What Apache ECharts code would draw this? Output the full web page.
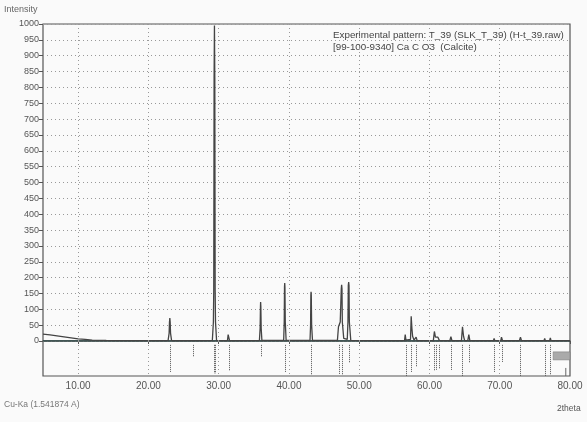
<!DOCTYPE html>
<html><head><meta charset="utf-8">
<script src="https://cdn.jsdelivr.net/npm/echarts@6/dist/echarts.min.js"></script>
<style>html,body{margin:0;padding:0;background:#fafafa}#c{width:587px;height:422px}</style>
</head><body><div id="c"></div>
<script>
// Measured pattern (2theta, intensity counts)
const twoTheta = [5,6,7,8,9,10,11,12,14,18,22.8,22.95,23.0,23.05,23.1,23.15,23.3,26.4,26.5,26.6,
  29.1,29.25,29.3,29.35,29.4,29.45,29.5,29.55,29.7,31.25,31.35,31.4,31.45,31.55,
  35.8,35.9,35.95,35.97,36.0,36.05,36.15,39.25,39.33,39.37,39.4,39.43,39.48,39.6,43.0,43.08,43.12,43.15,43.18,43.23,43.35,
  46.9,47.05,47.15,47.3,47.45,47.5,47.55,47.6,47.8,48.3,48.4,48.45,48.5,48.55,48.6,48.8,
  56.45,56.55,56.65,57.3,57.4,57.5,57.6,57.8,58.1,58.25,
  60.55,60.7,60.85,61.0,61.2,61.4,62.9,63.05,63.2,64.55,64.7,64.85,65.0,65.45,65.6,65.75,
  69.1,69.2,69.3,70.15,70.25,70.4,72.8,72.95,73.1,76.3,76.4,76.5,77.1,77.2,77.3,80];
const intensity = [22,19,16,13,10,7,5,3,2,1,1,25,60,72,60,25,1,1,6,1,
  2,60,160,830,995,830,160,60,2,1,20,22,20,1,
  2,40,110,123,110,40,2,2,60,170,183,170,60,2,2,50,145,155,145,50,2,
  2,45,40,60,165,177,165,60,8,5,60,175,186,175,60,2,
  1,20,3,5,78,40,15,3,12,1,
  1,30,12,18,12,2,1,14,1,1,45,15,2,1,20,1,
  1,8,1,1,12,1,1,12,1,1,8,1,1,10,1,1];
// Reference pattern sticks [99-100-9340] Calcite: position and depth (0-100 of stick band)
const stickPos = [23.05,26.4,29.35,29.45,31.4,35.97,39.4,43.15,47.1,47.5,48.5,56.6,57.4,58.1,60.7,61.0,61.4,63.1,64.7,65.6,69.2,70.3,72.9,76.4,77.2];
const stickEnd = [89,46,92,92,86,46,89,97,95,97,63,100,91,74,86,82,80,83,100,63,89,60,100,100,97];
const stickStart = 11;
const xTicks = [10,20,30,40,50,60,70,80];
const xGridLines = [10,20,30,40,50,60,70];

const stickData = stickPos.map((p,i)=>[p, stickStart, stickEnd[i]]);
const chart = echarts.init(document.getElementById('c'));
const font = 'Liberation Sans, Arial, sans-serif';
const dotted = {color:'#999',type:[1,3],width:1};
const vLines = xGridLines.map(v=>({xAxis:v}));
chart.setOption({
  backgroundColor:'#fafafa',
  animation:false,
  grid:[
    {left:43,right:17,top:24,height:317,show:true,borderColor:'#555',borderWidth:1.2,backgroundColor:'transparent'},
    {left:43,right:17,top:341,height:35,show:true,borderColor:'#555',borderWidth:1.2,backgroundColor:'transparent'}
  ],
  xAxis:[
    {gridIndex:0,type:'value',min:5,max:80,interval:5,axisLabel:{show:false},axisTick:{show:false},axisLine:{show:false},splitLine:{show:false}},
    {gridIndex:1,type:'value',min:5,max:80,interval:5,position:'bottom',
      axisLabel:{show:true,color:'#555',fontSize:10,fontFamily:font,margin:5,customValues:xTicks,formatter:v=>v.toFixed(2)},
      axisTick:{show:true,length:3,customValues:xTicks,lineStyle:{color:'#555'}},axisLine:{show:false},
      splitLine:{show:false}}
  ],
  yAxis:[
    {gridIndex:0,type:'value',min:0,max:1000,interval:50,
      axisLabel:{color:'#555',fontSize:9,fontFamily:font,margin:4,formatter:v=>String(v)},
      axisTick:{show:true,length:4,lineStyle:{color:'#555'}},axisLine:{show:false},
      splitLine:{show:true,lineStyle:dotted}},
    {gridIndex:1,type:'value',min:0,max:100,inverse:true,axisLabel:{show:false},axisTick:{show:false},axisLine:{show:false},splitLine:{show:false}}
  ],
  series:[
    {type:'line',xAxisIndex:0,yAxisIndex:0,data:[[5,0],[80,0]],symbol:'none',lineStyle:{color:'#2f4a48',width:1.6},z:3,
      markLine:{silent:true,symbol:'none',label:{show:false},lineStyle:dotted,data:vLines}},
    {type:'line',xAxisIndex:0,yAxisIndex:0,data:twoTheta.map((t,i)=>[t,intensity[i]]),symbol:'none',
      lineStyle:{color:'#444',width:1.3},z:4},
    {type:'custom',xAxisIndex:1,yAxisIndex:1,data:stickData,
      markLine:{silent:true,symbol:'none',label:{show:false},lineStyle:dotted,data:vLines},
      renderItem:(params,api)=>{
        const a=api.coord([api.value(0),api.value(1)]);
        const b=api.coord([api.value(0),api.value(2)]);
        return {type:'line',shape:{x1:Math.round(a[0])+0.5,y1:a[1],x2:Math.round(a[0])+0.5,y2:b[1]},style:{stroke:'#555',lineWidth:1,lineDash:[1,1]}};
      }},
    {type:'custom',xAxisIndex:1,yAxisIndex:1,data:[[77.6,80,31,54]],
      renderItem:(params,api)=>{
        const a=api.coord([api.value(0),api.value(2)]);
        const b=api.coord([api.value(1),api.value(3)]);
        return {type:'rect',shape:{x:a[0],y:a[1],width:b[0]-a[0],height:b[1]-a[1]},style:{fill:'#aaa',stroke:'#777',lineWidth:0.5}};
      }},
    {type:'custom',xAxisIndex:1,yAxisIndex:1,data:[[79.4,77,100]],
      renderItem:(params,api)=>{
        const a=api.coord([api.value(0),api.value(1)]);
        const b=api.coord([api.value(0),api.value(2)]);
        return {type:'line',shape:{x1:a[0],y1:a[1],x2:b[0],y2:b[1]},style:{stroke:'#666',lineWidth:1}};
      }}
  ],
  graphic:[
    {type:'text',left:4,top:5,style:{text:'Intensity',fontSize:9,fontFamily:font,fill:'#666'}},
    {type:'text',left:333,top:30,style:{text:'Experimental pattern: T_39 (SLK_T_39) (H-t_39.raw)',fontSize:9.8,fontFamily:font,fill:'#444'}},
    {type:'text',left:333,top:42,style:{text:'[99-100-9340] Ca C O3  (Calcite)',fontSize:9.8,fontFamily:font,fill:'#444'}},
    {type:'text',left:4,top:400,style:{text:'Cu-Ka (1.541874 A)',fontSize:8.5,fontFamily:font,fill:'#777'}},
    {type:'text',left:557,top:404,style:{text:'2theta',fontSize:8.5,fontFamily:font,fill:'#555'}}
  ]
});
</script></body></html>
